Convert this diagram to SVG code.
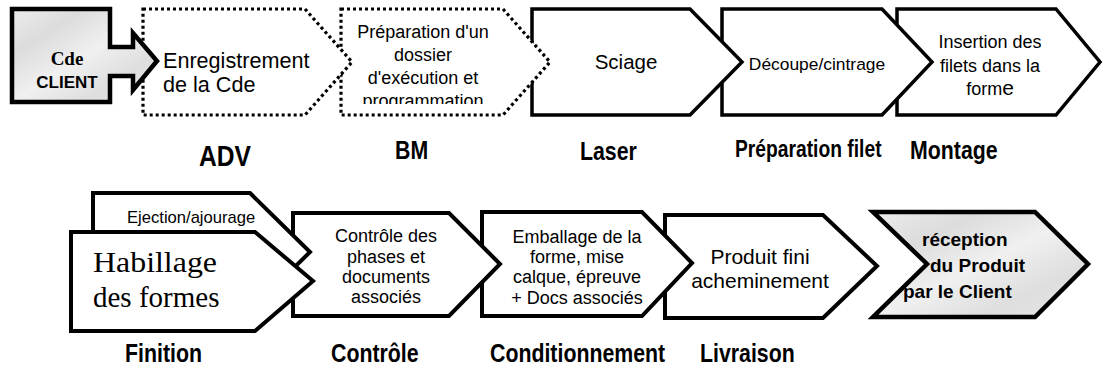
<svg xmlns="http://www.w3.org/2000/svg" width="1103" height="385" viewBox="0 0 1103 385">
<style>
.sol{fill:#fff;stroke:#000;stroke-width:3.5;stroke-linejoin:miter}
.sol4{fill:#fff;stroke:#000;stroke-width:4;stroke-linejoin:miter}
.dot{fill:#fff;stroke:#000;stroke-width:3.2;stroke-dasharray:3 3}
.gray{fill:url(#marble);stroke:#000;stroke-width:4.5;stroke-linejoin:miter}
.t{font-family:"Liberation Sans",Arial,sans-serif;fill:#000}
.s{font-family:"Liberation Serif","Times New Roman",serif;fill:#000}
.lab{font-family:"Liberation Sans",Arial,sans-serif;font-weight:bold;fill:#000}
</style>
<defs>
<linearGradient id="marble" x1="0" y1="0" x2="1" y2="1">
<stop offset="0" stop-color="#ececec"/>
<stop offset="0.25" stop-color="#dcdcdc"/>
<stop offset="0.5" stop-color="#f0f0f0"/>
<stop offset="0.75" stop-color="#dedede"/>
<stop offset="1" stop-color="#e8e8e8"/>
</linearGradient>
<clipPath id="bmclip"><rect x="341" y="9" width="200" height="95"/></clipPath>
</defs>
<g id="connectors"></g>

<g id="n-insertion">
<path class="sol" d="M897,9 H1056 L1100,62 L1056,115 H897 Z"/>
<text class="t" font-size="18" text-anchor="middle"><tspan x="990" y="48">Insertion des</tspan><tspan x="990" y="72">filets dans la</tspan><tspan x="990" y="95">form<tspan font-size="21">e</tspan></tspan></text>
</g>
<g id="n-decoupe">
<path class="sol" d="M722,9 H882 L932,62 L882,115 H722 Z"/>
<text class="t" font-size="17.4" x="817" y="70" text-anchor="middle">Découpe/cintrage</text>
</g>
<g id="n-sciage">
<path class="sol" d="M532,9 H690 L742,62 L690,115 H532 Z"/>
<text class="t" font-size="20.5" x="626" y="69" text-anchor="middle">Sciage</text>
</g>
<g id="n-bm">
<path class="dot" d="M341,9 H503 L550,62 L503,115 H341 Z"/>
<text class="t" font-size="18" text-anchor="middle" clip-path="url(#bmclip)"><tspan x="423" y="38">Préparation d'un</tspan><tspan x="423" y="61">dossier</tspan><tspan x="423" y="84">d'exécution et</tspan><tspan x="423" y="107">programmation</tspan></text>
</g>
<g id="n-enregistrement">
<path class="dot" d="M143,9 H305 L352,62 L305,115 H143 Z"/>
<text class="t" font-size="21.6"><tspan x="163" y="68">Enregistrement</tspan><tspan x="163" y="92">de la Cde</tspan></text>
</g>
<g id="n-client">
<path class="gray" d="M12,9 H110 V47 H133 V33 L157,61 L133,90 V76 H110 V102 H12 Z"/>
<text class="s" font-weight="bold" font-size="19" x="67" y="65" text-anchor="middle">Cde</text>
<text class="lab" font-size="17" x="67" y="88" text-anchor="middle">CLIENT</text>
</g>

<g id="l-adv"><text class="lab" font-size="30" transform="translate(199,166) scale(0.82,1)">ADV</text></g>
<g id="l-bm"><text class="lab" font-size="26" transform="translate(395,159) scale(0.82,1)">BM</text></g>
<g id="l-laser"><text class="lab" font-size="26" transform="translate(580,160) scale(0.82,1)">Laser</text></g>
<g id="l-prep"><text class="lab" font-size="23.5" transform="translate(735,157) scale(0.82,1)">Préparation filet</text></g>
<g id="l-montage"><text class="lab" font-size="26" transform="translate(910,159) scale(0.82,1)">Montage</text></g>

<g id="n-reception">
<path class="gray" d="M873,212 H1035 L1088,264 L1035,317 H873 L927,264 Z"/>
<text class="lab" font-size="19"><tspan x="922" y="246">réception</tspan><tspan x="930" y="272">du Produit</tspan><tspan x="903" y="298">par le Client</tspan></text>
</g>
<g id="n-produit">
<path class="sol4" d="M665,215 H823 L877,266 L823,318 H665 Z"/>
<text class="t" font-size="21" text-anchor="middle"><tspan x="760" y="264">Produit fini</tspan><tspan x="760" y="288">acheminement</tspan></text>
</g>
<g id="n-emballage">
<path class="sol4" d="M482,212 H642 L692,263 L642,316 H482 Z"/>
<text class="t" font-size="18" text-anchor="middle"><tspan x="577" y="243">Emballage de la</tspan><tspan x="577" y="263">forme, mise</tspan><tspan x="577" y="283">calque, épreuve</tspan><tspan x="577" y="304">+ Docs associés</tspan></text>
</g>
<g id="n-controle">
<path class="sol4" d="M293,213 H449 L500,264 L449,316 H293 Z"/>
<text class="t" font-size="18" text-anchor="middle"><tspan x="386" y="242">Contrôle des</tspan><tspan x="386" y="263">phases et</tspan><tspan x="386" y="283">documents</tspan><tspan x="386" y="303">associés</tspan></text>
</g>
<g id="n-ejection">
<path class="sol4" d="M93,193 H250 L310,252 L250,311 H93 Z"/>
<text class="t" font-size="16.6" x="127" y="223">Ejection/ajourage</text>
</g>
<g id="n-habillage">
<path class="sol4" d="M71,232 H255 L313,281 L255,331 H71 Z"/>
<text class="s" font-size="29"><tspan x="93" y="272" textLength="124" lengthAdjust="spacingAndGlyphs">Habillage</tspan><tspan x="93" y="307">des formes</tspan></text>
</g>

<g id="l-finition"><text class="lab" font-size="26" transform="translate(125,362) scale(0.82,1)">Finition</text></g>
<g id="l-controle"><text class="lab" font-size="26" transform="translate(331,362) scale(0.82,1)">Contrôle</text></g>
<g id="l-cond"><text class="lab" font-size="26" transform="translate(490,362) scale(0.82,1)">Conditionnement</text></g>
<g id="l-livraison"><text class="lab" font-size="26" transform="translate(700,362) scale(0.82,1)">Livraison</text></g>
</svg>
